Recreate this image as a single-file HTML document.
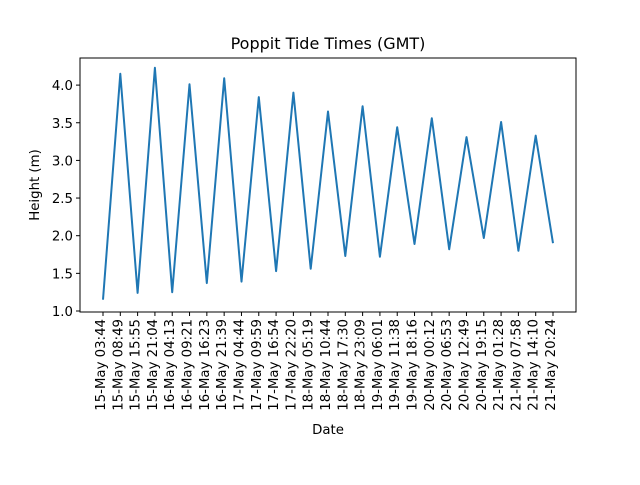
<!DOCTYPE html>
<html><head><meta charset="utf-8"><style>
body{margin:0;background:#fff}
svg text{font-family:"DejaVu Sans","Liberation Sans",sans-serif;fill:#000}
</style></head><body>
<svg id="chart" width="640" height="480" xmlns="http://www.w3.org/2000/svg">
<rect width="640" height="480" fill="#fff"/>
<text x="328" y="49" text-anchor="middle" font-size="16">Poppit Tide Times (GMT)</text>
<g id="ticks"></g>
<path id="line" fill="none" stroke="#1f77b4" stroke-width="2" stroke-linejoin="round"/>
<rect x="80" y="58" width="496" height="254" fill="none" stroke="#000" stroke-width="1"/>
<text transform="translate(39,185) rotate(-90)" text-anchor="middle" font-size="13.3">Height (m)</text>
<text x="328" y="434" text-anchor="middle" font-size="13.3">Date</text>
</svg>
<script>
const categories=["15-May 03:44","15-May 08:49","15-May 15:55","15-May 21:04","16-May 04:13","16-May 09:21","16-May 16:23","16-May 21:39","17-May 04:44","17-May 09:59","17-May 16:54","17-May 22:20","18-May 05:19","18-May 10:44","18-May 17:30","18-May 23:09","19-May 06:01","19-May 11:38","19-May 18:16","20-May 00:12","20-May 06:53","20-May 12:49","20-May 19:15","21-May 01:28","21-May 07:58","21-May 14:10","21-May 20:24"];
const heights=[1.15,4.15,1.24,4.23,1.25,4.01,1.37,4.09,1.39,3.84,1.53,3.90,1.56,3.65,1.73,3.72,1.72,3.44,1.89,3.56,1.82,3.31,1.97,3.51,1.80,3.33,1.90];
const yTicks=[1.0,1.5,2.0,2.5,3.0,3.5,4.0];
const NS="http://www.w3.org/2000/svg";
const x0=103,x1=553;
function xs(i){return x0+(x1-x0)*i/(categories.length-1);}
function ys(v){return 311-(v-1.0)*75.3;}
const g=document.getElementById('ticks');
categories.forEach((c,i)=>{
  const x=xs(i);
  const t=document.createElementNS(NS,'line');
  
  
  t.setAttribute('x1',x);t.setAttribute('x2',x);t.setAttribute('y1',312);t.setAttribute('y2',316);t.setAttribute('stroke','#000');
  g.appendChild(t);
  const tx=document.createElementNS(NS,'text');
  
  
  tx.setAttribute('font-size','13.3');tx.setAttribute('text-anchor','end');
  tx.setAttribute('transform','translate('+(x+2)+',319) rotate(-90)');
  tx.textContent=c;g.appendChild(tx);
});
yTicks.forEach(v=>{
  const y=ys(v);
  const t=document.createElementNS(NS,'line');
  
  
  t.setAttribute('x1',76);t.setAttribute('x2',80);t.setAttribute('y1',y);t.setAttribute('y2',y);t.setAttribute('stroke','#000');
  g.appendChild(t);
  const tx=document.createElementNS(NS,'text');
  
  
  tx.setAttribute('font-size','13.3');tx.setAttribute('text-anchor','end');
  tx.setAttribute('x',73);tx.setAttribute('y',y+5);
  tx.textContent=v.toFixed(1);g.appendChild(tx);
});
document.getElementById('line').setAttribute('d',heights.map((v,i)=>(i?'L':'M')+xs(i).toFixed(1)+' '+ys(v).toFixed(1)).join(' '));
</script>
</body></html>
